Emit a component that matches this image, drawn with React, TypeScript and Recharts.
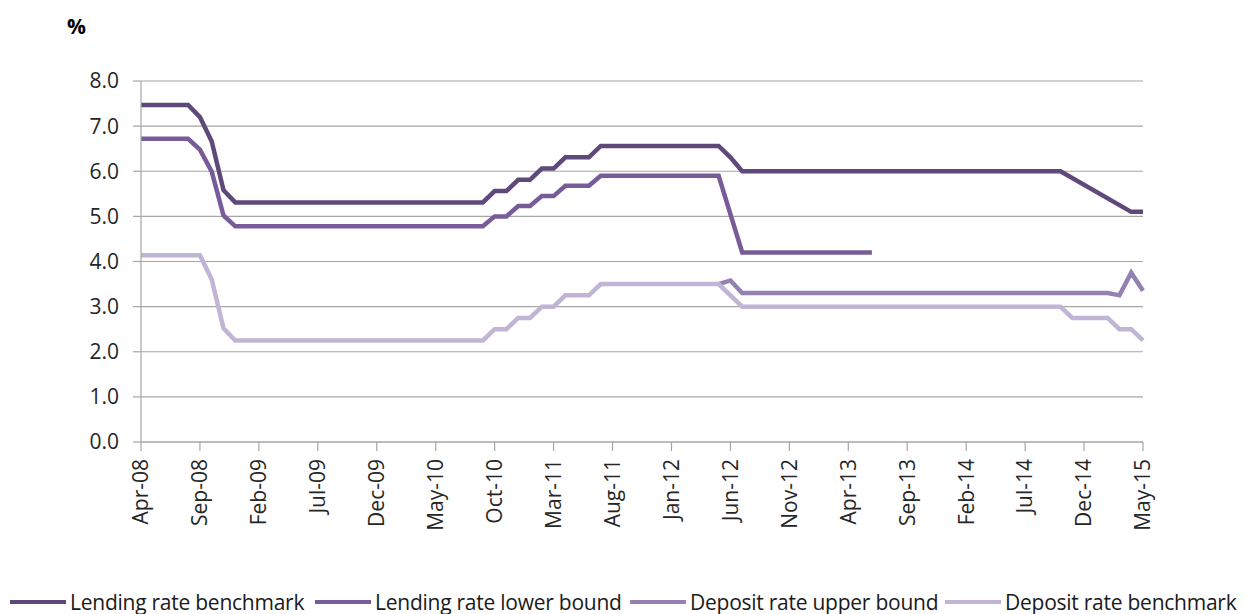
import { LineChart, Line, XAxis, YAxis, CartesianGrid } from 'recharts'

const MONTHS = [
  'Apr-08', 'May-08', 'Jun-08', 'Jul-08', 'Aug-08', 'Sep-08', 'Oct-08', 'Nov-08', 'Dec-08',
  'Jan-09', 'Feb-09', 'Mar-09', 'Apr-09', 'May-09', 'Jun-09', 'Jul-09', 'Aug-09', 'Sep-09', 'Oct-09', 'Nov-09', 'Dec-09',
  'Jan-10', 'Feb-10', 'Mar-10', 'Apr-10', 'May-10', 'Jun-10', 'Jul-10', 'Aug-10', 'Sep-10', 'Oct-10', 'Nov-10', 'Dec-10',
  'Jan-11', 'Feb-11', 'Mar-11', 'Apr-11', 'May-11', 'Jun-11', 'Jul-11', 'Aug-11', 'Sep-11', 'Oct-11', 'Nov-11', 'Dec-11',
  'Jan-12', 'Feb-12', 'Mar-12', 'Apr-12', 'May-12', 'Jun-12', 'Jul-12', 'Aug-12', 'Sep-12', 'Oct-12', 'Nov-12', 'Dec-12',
  'Jan-13', 'Feb-13', 'Mar-13', 'Apr-13', 'May-13', 'Jun-13', 'Jul-13', 'Aug-13', 'Sep-13', 'Oct-13', 'Nov-13', 'Dec-13',
  'Jan-14', 'Feb-14', 'Mar-14', 'Apr-14', 'May-14', 'Jun-14', 'Jul-14', 'Aug-14', 'Sep-14', 'Oct-14', 'Nov-14', 'Dec-14',
  'Jan-15', 'Feb-15', 'Mar-15', 'Apr-15', 'May-15',
]

// 1-year lending benchmark; gaps (null) at the end are joined by a straight line as in the source
const LENDING_BENCHMARK: (number | null)[] = [
  7.47, 7.47, 7.47, 7.47, 7.47, 7.2, 6.66, 5.58, 5.31,
  5.31, 5.31, 5.31, 5.31, 5.31, 5.31, 5.31, 5.31, 5.31, 5.31, 5.31, 5.31,
  5.31, 5.31, 5.31, 5.31, 5.31, 5.31, 5.31, 5.31, 5.31, 5.56, 5.56, 5.81,
  5.81, 6.06, 6.06, 6.31, 6.31, 6.31, 6.56, 6.56, 6.56, 6.56, 6.56, 6.56,
  6.56, 6.56, 6.56, 6.56, 6.56, 6.31, 6.0, 6.0, 6.0, 6.0, 6.0, 6.0,
  6.0, 6.0, 6.0, 6.0, 6.0, 6.0, 6.0, 6.0, 6.0, 6.0, 6.0, 6.0,
  6.0, 6.0, 6.0, 6.0, 6.0, 6.0, 6.0, 6.0, 6.0, 6.0, null, null,
  null, null, null, 5.1, 5.1,
]

const LENDING_LOWER: (number | null)[] = [
  6.72, 6.72, 6.72, 6.72, 6.72, 6.48, 5.99, 5.02, 4.78,
  4.78, 4.78, 4.78, 4.78, 4.78, 4.78, 4.78, 4.78, 4.78, 4.78, 4.78, 4.78,
  4.78, 4.78, 4.78, 4.78, 4.78, 4.78, 4.78, 4.78, 4.78, 5.0, 5.0, 5.23,
  5.23, 5.45, 5.45, 5.68, 5.68, 5.68, 5.9, 5.9, 5.9, 5.9, 5.9, 5.9,
  5.9, 5.9, 5.9, 5.9, 5.9, 5.05, 4.2, 4.2, 4.2, 4.2, 4.2, 4.2,
  4.2, 4.2, 4.2, 4.2, 4.2, 4.2, null, null, null, null, null, null,
  null, null, null, null, null, null, null, null, null, null, null, null,
  null, null, null, null, null,
]

const DEPOSIT_UPPER: (number | null)[] = [
  null, null, null, null, null, null, null, null, null,
  null, null, null, null, null, null, null, null, null, null, null, null,
  null, null, null, null, null, null, null, null, null, null, null, null,
  null, null, null, null, null, null, null, null, null, null, null, null,
  null, null, null, null, 3.5, 3.58, 3.3, 3.3, 3.3, 3.3, 3.3, 3.3,
  3.3, 3.3, 3.3, 3.3, 3.3, 3.3, 3.3, 3.3, 3.3, 3.3, 3.3, 3.3,
  3.3, 3.3, 3.3, 3.3, 3.3, 3.3, 3.3, 3.3, 3.3, 3.3, 3.3, 3.3,
  3.3, 3.3, 3.25, 3.75, 3.35,
]

const DEPOSIT_BENCHMARK: (number | null)[] = [
  4.14, 4.14, 4.14, 4.14, 4.14, 4.14, 3.6, 2.52, 2.25,
  2.25, 2.25, 2.25, 2.25, 2.25, 2.25, 2.25, 2.25, 2.25, 2.25, 2.25, 2.25,
  2.25, 2.25, 2.25, 2.25, 2.25, 2.25, 2.25, 2.25, 2.25, 2.5, 2.5, 2.75,
  2.75, 3.0, 3.0, 3.25, 3.25, 3.25, 3.5, 3.5, 3.5, 3.5, 3.5, 3.5,
  3.5, 3.5, 3.5, 3.5, 3.5, 3.25, 3.0, 3.0, 3.0, 3.0, 3.0, 3.0,
  3.0, 3.0, 3.0, 3.0, 3.0, 3.0, 3.0, 3.0, 3.0, 3.0, 3.0, 3.0,
  3.0, 3.0, 3.0, 3.0, 3.0, 3.0, 3.0, 3.0, 3.0, 3.0, 2.75, 2.75,
  2.75, 2.75, 2.5, 2.5, 2.25,
]

const Y_TICKS = [0, 1, 2, 3, 4, 5, 6, 7, 8]

const SERIES = [
  { key: 'lendingBenchmark', name: 'Lending rate benchmark', color: '#5f497a', connect: true },
  { key: 'lendingLower', name: 'Lending rate lower bound', color: '#785c99', connect: false },
  { key: 'depositUpper', name: 'Deposit rate upper bound', color: '#9580b2', connect: false },
  { key: 'depositBenchmark', name: 'Deposit rate benchmark', color: '#c0b5d4', connect: false },
]

const FONT = '"Open Sans", "Liberation Sans", sans-serif'

const data = MONTHS.map((m, i) => ({
  month: m,
  lendingBenchmark: LENDING_BENCHMARK[i],
  lendingLower: LENDING_LOWER[i],
  depositUpper: DEPOSIT_UPPER[i],
  depositBenchmark: DEPOSIT_BENCHMARK[i],
}))

function MonthTick({ x, y, payload }: any) {
  return (
    <g transform={`translate(${x},${y + 8})`}>
      <text transform="rotate(-90)" textAnchor="end" dy="0.35em" fill="#262626" fontSize={21} fontFamily={FONT}>
        {payload.value}
      </text>
    </g>
  )
}

export default function App() {
  return (
    <div style={{ position: 'absolute', left: 0, top: 0, width: 1246, height: 614, background: '#fff', fontFamily: FONT }}>
      <div style={{ position: 'absolute', left: 67, top: 12, fontSize: 21, fontWeight: 700, color: '#000' }}>%</div>
      <LineChart width={1246} height={570} data={data} margin={{ top: 81, right: 103, left: 0, bottom: 0 }}>
        <CartesianGrid vertical={false} stroke="#a6a6a6" strokeWidth={1.2} />
        <XAxis
          dataKey="month"
          interval={4}
          height={128}
          tick={<MonthTick />}
          tickSize={9}
          tickMargin={0}
          stroke="#a6a6a6"
          strokeWidth={1.2}
        />
        <YAxis
          domain={[0, 8]}
          ticks={Y_TICKS}
          width={141}
          tickSize={8}
          tickMargin={14}
          stroke="#a6a6a6"
          strokeWidth={1.2}
          tick={{ fontSize: 21, fill: '#262626', fontFamily: FONT }}
          tickFormatter={(v: number) => v.toFixed(1)}
        />
        {SERIES.map(s => (
          <Line
            key={s.key}
            dataKey={s.key}
            name={s.name}
            type="linear"
            stroke={s.color}
            strokeWidth={4.5}
            dot={false}
            connectNulls={s.connect}
            isAnimationActive={false}
          />
        ))}
      </LineChart>
      <div style={{ position: 'absolute', left: 10, top: 588, display: 'flex', alignItems: 'center', whiteSpace: 'nowrap' }}>
        {SERIES.map((s, i) => (
          <div key={s.key} style={{ display: 'flex', alignItems: 'center', width: i === 0 ? 305 : 315 }}>
            <div style={{ width: 56, height: 4, background: s.color, marginRight: 4 }} />
            <span style={{ fontSize: 21, letterSpacing: -0.25, color: '#1a1a1a' }}>{s.name}</span>
          </div>
        ))}
      </div>
    </div>
  )
}
